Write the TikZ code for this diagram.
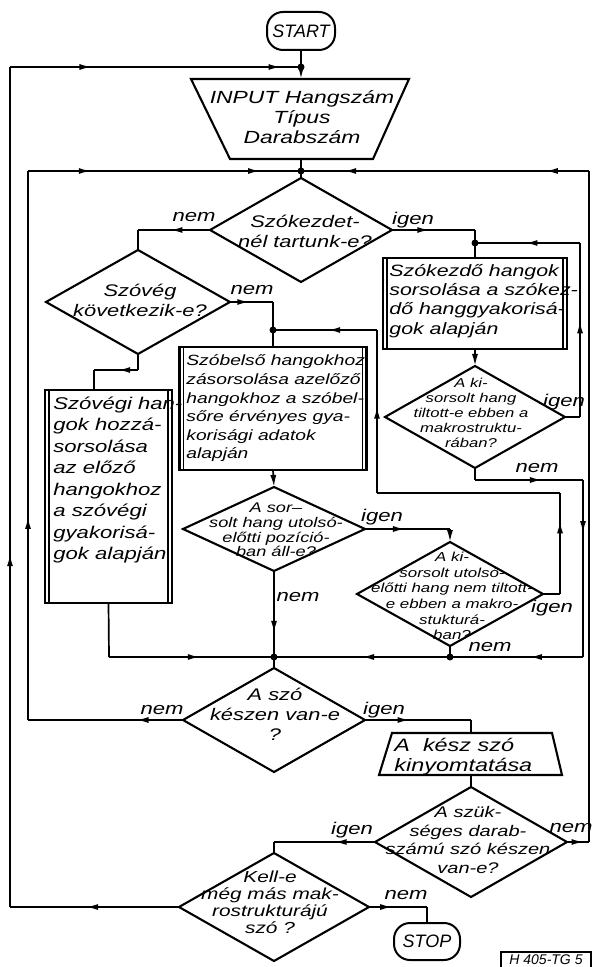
\documentclass[tikz,border=0pt]{standalone}
\usepackage{fontspec}
\setmainfont{Liberation Sans}[FakeStretch=1.3]
\newfontfamily\plainsans{Liberation Sans}
\usetikzlibrary{shapes.geometric,arrows.meta,decorations.markings}
\tikzset{
  ln/.style={line width=0.85pt},
  ma/.style={postaction={decorate,decoration={markings,mark=at position #1 with {\arrow{Latex[length=6pt,width=3pt]}}}}},
  ea/.style={-{Latex[length=6pt,width=3pt]}},
  dia/.style={draw, diamond, line width=1.05pt, inner sep=0pt, outer sep=0pt},
  proc/.style={draw, rectangle, line width=1.3pt, inner sep=0pt, outer sep=0pt},
  inner/.style={line width=0.7pt},
  term/.style={draw, rectangle, rounded corners=8pt, line width=1pt, inner sep=0pt, outer sep=0pt, font=\plainsans\itshape\fontsize{9}{10}\selectfont},
  tx/.style 2 args={inner sep=0pt, align=center, font=\itshape\fontsize{#1}{#2}\selectfont},
  lbl/.style={inner sep=0pt, font=\itshape\fontsize{8.5}{10}\selectfont},
  dot/.style={circle, fill, inner sep=0pt, minimum size=3.5pt},
}
\begin{document}
\begin{tikzpicture}[x=0.5pt,y=-0.5pt]
\useasboundingbox (0,0) rectangle (591,967);

% ---- terminals
\node[term, minimum width=34pt, minimum height=19pt] (start) at (301,31) {START};
\node[term, minimum width=33pt, minimum height=18.5pt] (stop) at (427,941.5) {STOP};

% ---- INPUT trapezoid
\coordinate (inTL) at (191,79); \coordinate (inTR) at (409,79);
\coordinate (inBR) at (373,159); \coordinate (inBL) at (230,159);
\coordinate (inT) at (301,79); \coordinate (inB) at (301,159);
\draw[line width=1.05pt] (inTL) -- (inTR) -- (inBR) -- (inBL) -- cycle;
\node[tx={8.8}{10}] (intext) at (302,117) {INPUT Hangszám\\Típus\\Darabszám};

% ---- output trapezoid
\coordinate (t2TL) at (392,733); \coordinate (t2TR) at (552,733);
\coordinate (t2BR) at (562,775); \coordinate (t2BL) at (379,775);
\coordinate (t2T) at (471,733); \coordinate (t2B) at (471,775);
\draw[line width=1.05pt] (t2TL) -- (t2TR) -- (t2BR) -- (t2BL) -- cycle;
\node[tx={9}{10}, align=left, anchor=west] (t2text) at (394,757) {A\ \ kész szó\\kinyomtatása};

% ---- diamonds
\node[dia, minimum width=91pt, minimum height=52pt] (d1) at (301,230) {};
\node[tx={8.4}{10}] (d1t) at (305,231) {Szókezdet-\\nél tartunk-e?};
\node[dia, minimum width=92pt, minimum height=52pt] (d2) at (138,302) {};
\node[tx={8.4}{10}] (d2t) at (140,300) {Szóvég\\következik-e?};
\node[dia, minimum width=90pt, minimum height=51pt] (d3) at (475,417) {};
\node[tx={6.4}{7.5}] (d3t) at (471,413) {A ki-\\sorsolt hang\\tiltott-e ebben a\\makrostruktu-\\rában?};
\node[dia, minimum width=91pt, minimum height=42pt] (d4) at (274,529) {};
\node[tx={7}{7.35}] (d4t) at (276,530) {A sor--\\solt hang utolsó-\\előtti pozíció-\\ban áll-e?};
\node[dia, minimum width=93pt, minimum height=52pt] (d5) at (450,594) {};
\node[tx={6.5}{7.8}] (d5t) at (452,596) {A ki-\\sorsolt utolsó-\\előtti hang nem tiltott-\\e ebben a makro-\\stukturá-\\ban?};
\node[dia, minimum width=91pt, minimum height=52pt] (d6) at (274,720) {};
\node[tx={8.4}{10}] (d6t) at (275,714) {A szó\\készen van-e\\?};
\node[dia, minimum width=96pt, minimum height=55pt] (d7) at (471,842) {};
\node[tx={7.7}{9.3}] (d7t) at (468,840) {A szük-\\séges darab-\\számú szó készen\\van-e?};
\node[dia, minimum width=95pt, minimum height=54pt] (d8) at (274,907) {};
\node[tx={8}{8.5}] (d8t) at (270,902) {Kell-e\\még más mak-\\rostrukturájú\\szó ?};

% ---- process boxes
\node[proc, minimum width=92pt, minimum height=45.5pt] (b1) at (475,303.5) {};
\node[proc, minimum width=93.5pt, minimum height=61.5pt] (b2) at (273,408.5) {};
\node[proc, minimum width=63.5pt, minimum height=106.5pt] (b3) at (108.5,496.5) {};
\foreach \b in {b1,b2,b3}{
  \draw[inner] ([xshift=2pt]\b.north west) -- ([xshift=2pt]\b.south west);
  \draw[inner] ([xshift=-2pt]\b.north east) -- ([xshift=-2pt]\b.south east);
}
\node[tx={8.2}{9.65}, align=left, anchor=west] (b1t) at (389,301) {Szókezdő hangok\\sorsolása a szókez-\\dő hanggyakorisá-\\gok alapján};
\node[tx={7.4}{9.3}, align=left, anchor=west] (b2t) at (186,408.5) {Szóbelső hangokhoz\\zásorsolása azelőző\\hangokhoz a szóbel-\\sőre érvényes gya-\\korisági adatok\\alapján};
\node[tx={8.5}{10.75}, align=left, anchor=west] (b3t) at (53,480) {Szóvégi han-\\gok hozzá-\\sorsolása\\az előző\\hangokhoz\\a szóvégi\\gyakorisá-\\gok alapján};

% ---- code box
\node[draw, line width=0.7pt, inner sep=0pt, minimum width=45pt, minimum height=8pt, font=\plainsans\itshape\fontsize{7}{8}\selectfont] (code) at (546,960) {H 405-TG 5};

% ---- coordinates / junctions
\coordinate (j0) at (301,67);
\coordinate (j1) at (301,171);
\coordinate (j2) at (475,243);
\coordinate (j3) at (274,657);
\coordinate (j4) at (450,657);
\coordinate (j5) at (273,330);
\coordinate (k1) at (10,907); \coordinate (k2) at (10,67);
\coordinate (m1) at (28,720); \coordinate (m2) at (28,171);
\coordinate (r1) at (589,842); \coordinate (r2) at (589,171);
\coordinate (a1) at (138,230);
\coordinate (a2) at (475,230);
\coordinate (a3) at (580,417); \coordinate (a4) at (580,243);
\coordinate (a5) at (475,480); \coordinate (a6) at (583,480); \coordinate (a7) at (583,657);
\coordinate (a8) at (273,302);
\coordinate (a9) at (560,594); \coordinate (a10) at (560,493); \coordinate (a11) at (377,493); \coordinate (a12) at (377,330);
\coordinate (a13) at (138,370); \coordinate (a14) at (94,370);
\coordinate (a15) at (450,529);
\coordinate (a16) at (109,657);
\coordinate (a17) at (471,720);
\coordinate (a18) at (274,842);
\coordinate (a19) at (427,907);

% ---- connectors
\draw[ln] (start.south) -- (j0);
\draw[ln,ea] (j0) -- (inT);
\draw[ln,ma=0.55] (d8.west) -- (k1);
\draw[ln,ma=0.42] (k1) -- (k2);
\draw[ln,ma=0.28,ma=0.93] (k2) -- (j0);

\draw[ln] (inB) -- (j1);
\draw[ln] (j1) -- (d1.north);
\draw[ln,ma=0.3] (d6.west) -- (m1);
\draw[ln,ma=0.37] (m1) -- (m2);
\draw[ln,ma=0.23,ma=0.85] (m2) -- (j1);

\draw[ln,ma=0.75] (d7.east) -- (r1);
\draw[ln] (r1) -- (r2);
\draw[ln,ma=0.15,ma=0.85] (r2) -- (j1);

\draw[ln,ma=0.55] (d1.west) -- (a1);
\draw[ln] (a1) -- (d2.north);

\draw[ln,ma=0.45] (d1.east) -- (a2);
\draw[ln] (a2) -- (j2);
\draw[ln] (j2) -- (b1.north);

\draw[ln] (d3.east) -- (a3);
\draw[ln,ma=0.55] (a3) -- (a4);
\draw[ln,ma=0.52] (a4) -- (j2);

\draw[ln,ea] (b1.south) -- (d3.north);

\draw[ln] (d3.south) -- (a5);
\draw[ln,ma=0.62] (a5) -- (a6);
\draw[ln,ma=0.3] (a6) -- (a7);
\draw[ln,ma=0.4] (a7) -- (j4);

\draw[ln,ma=0.45] (d2.east) -- (a8);
\draw[ln] (a8) -- (j5);
\draw[ln] (j5) -- (b2.north);

\draw[ln] (d5.east) -- (a9);
\draw[ln,ma=0.72] (a9) -- (a10);
\draw[ln] (a10) -- (a11);
\draw[ln,ma=0.53] (a11) -- (a12);
\draw[ln,ma=0.47] (a12) -- (j5);

\draw[ln] (d2.south) -- (a13);
\draw[ln,ma=0.45] (a13) -- (a14);
\draw[ln] (a14) -- (a14 |- b3.north);

\draw[ln,ea] (b2.south) -- (d4.north);

\draw[ln,ma=0.47] (d4.east) -- (a15);
\draw[ln,ea] (a15) -- (d5.north);

\draw[ln,ma=0.72] (d4.south) -- (j3);

\draw[ln] (b3.south) -- (a16);
\draw[ln,ma=0.55] (a16) -- (j3);

\draw[ln] (d5.south) -- (j4);
\draw[ln,ma=0.5] (j4) -- (j3);

\draw[ln] (j3) -- (d6.north);

\draw[ln,ma=0.42] (d6.east) -- (a17);
\draw[ln] (a17) -- (t2T);

\draw[ln] (t2B) -- (d7.north);

\draw[ln,ma=0.4] (d7.west) -- (a18);
\draw[ln] (a18) -- (d8.north);

\draw[ln,ma=0.4] (d8.east) -- (a19);
\draw[ln] (a19) -- (stop.north);

% ---- junction dots
\foreach \j in {j0,j1,j2,j3,j4,j5} \node[dot] at (\j) {};

% ---- branch labels
\node[lbl] (l1) at (194,217) {nem};
\node[lbl] (l2) at (413,220) {igen};
\node[lbl] (l3) at (252,290) {nem};
\node[lbl] (l4) at (564,402) {igen};
\node[lbl] (l5) at (537,468) {nem};
\node[lbl] (l6) at (382,517) {igen};
\node[lbl] (l7) at (298,597) {nem};
\node[lbl] (l8) at (552,608) {igen};
\node[lbl] (l9) at (490,647) {nem};
\node[lbl] (l10) at (162,710) {nem};
\node[lbl] (l11) at (384,710) {igen};
\node[lbl] (l12) at (352,830) {igen};
\node[lbl] (l13) at (571,828) {nem};
\node[lbl] (l14) at (406,895) {nem};
\end{tikzpicture}
\end{document}
